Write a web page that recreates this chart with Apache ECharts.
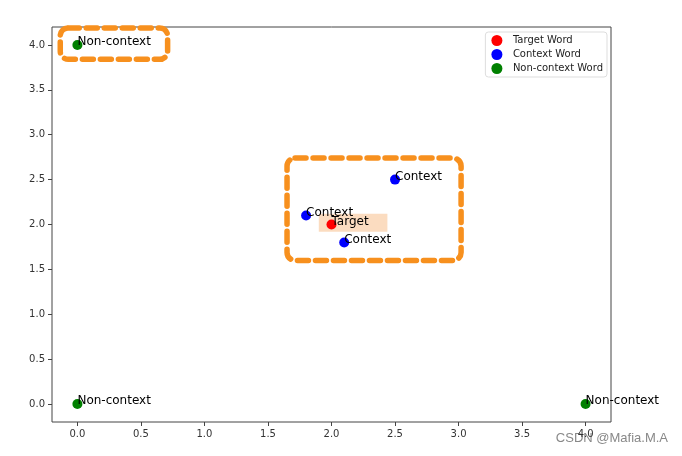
<!DOCTYPE html>
<html><head><meta charset="utf-8">
<script src="https://cdn.jsdelivr.net/npm/echarts@6/dist/echarts.min.js"></script>
<style>html,body{margin:0;padding:0;background:#fff}#c{width:682px;height:456px}</style>
</head><body><div id="c"></div>
<script>
const targetPoints = [[2.0, 2.0]];
const contextPoints = [[1.8, 2.1], [2.1, 1.8], [2.5, 2.5]];
const nonContextPoints = [[0.0, 4.0], [0.0, 0.0], [4.0, 0.0]];
const targetLabel = 'Target';
const contextLabel = 'Context';
const nonContextLabel = 'Non-context';
const seriesNames = ['Target Word', 'Context Word', 'Non-context Word'];
const tickValues = [0, 0.5, 1.0, 1.5, 2.0, 2.5, 3.0, 3.5, 4.0];
// annotation regions in data coordinates [x0, y0, x1, y1]
const dashedBoxes = [[-0.135, 3.84, 0.71, 4.19], [1.65, 1.6, 3.02, 2.74]];
const highlightBoxes = [[1.9, 1.92, 2.44, 2.12]];

const font = 'DejaVu Sans';
const chart = echarts.init(document.getElementById('c'));

function labelCfg(text) {
  return {
    show: true, formatter: text, position: [5, 5], align: 'left', verticalAlign: 'bottom',
    offset: [0, 3], fontFamily: font, fontSize: 12, color: '#000'
  };
}
function scatter(name, data, color, text) {
  return {
    name, type: 'scatter', data, symbol: 'circle', symbolSize: 10, z: 5,
    itemStyle: { color, opacity: 1 }, label: labelCfg(text), emphasis: { disabled: true }
  };
}
function rectItem(isDashed) {
  return function (params, api) {
    const p0 = api.coord([api.value(0), api.value(3)]);
    const p1 = api.coord([api.value(2), api.value(1)]);
    const shape = { x: p0[0], y: p0[1], width: p1[0] - p0[0], height: p1[1] - p0[1] };
    if (isDashed) {
      shape.r = 8;
      return { type: 'rect', shape, style: { fill: 'none', stroke: '#f7901e', lineWidth: 5.5, lineDash: [11, 7], lineCap: 'round' } };
    }
    return { type: 'rect', shape, style: { fill: '#fbdcc0' } };
  };
}

const axisCommon = {
  type: 'value', min: -0.2, max: 4.2,
  axisLine: { show: false, onZero: false }, splitLine: { show: false },
  axisTick: { show: true, customValues: tickValues, length: 4, lineStyle: { color: '#444' } },
  axisLabel: { customValues: tickValues, formatter: v => v.toFixed(1), fontFamily: font, fontSize: 10, color: '#333', margin: 7 }
};

chart.setOption({
  animation: false,
  grid: { left: 52, right: 71, top: 27, bottom: 34, show: true, borderColor: '#444', borderWidth: 1 },
  xAxis: axisCommon,
  yAxis: axisCommon,
  legend: {
    data: seriesNames, orient: 'vertical', right: 75, top: 32, itemGap: 3,
    icon: 'circle', itemWidth: 22, itemHeight: 11,
    borderColor: '#ddd', borderWidth: 1, borderRadius: 3, padding: [3, 4, 3, 6],
    textStyle: { fontFamily: font, fontSize: 10, color: '#222' }
  },
  series: [
    { type: 'custom', renderItem: rectItem(false), data: highlightBoxes, z: 1, silent: true, encode: { x: [0, 2], y: [1, 3] } },
    scatter(seriesNames[0], targetPoints, '#ff0000', targetLabel),
    scatter(seriesNames[1], contextPoints, '#0000ff', contextLabel),
    scatter(seriesNames[2], nonContextPoints, '#008000', nonContextLabel),
    { type: 'custom', renderItem: rectItem(true), data: dashedBoxes, z: 10, silent: true, clip: false, encode: { x: [0, 2], y: [1, 3] } }
  ],
  graphic: [{
    type: 'text', right: 14, top: 432,
    style: { text: 'CSDN @Mafia.M.A', font: '13px "Liberation Sans Narrow", "Liberation Sans"', fill: '#888' }
  }]
});
</script></body></html>
